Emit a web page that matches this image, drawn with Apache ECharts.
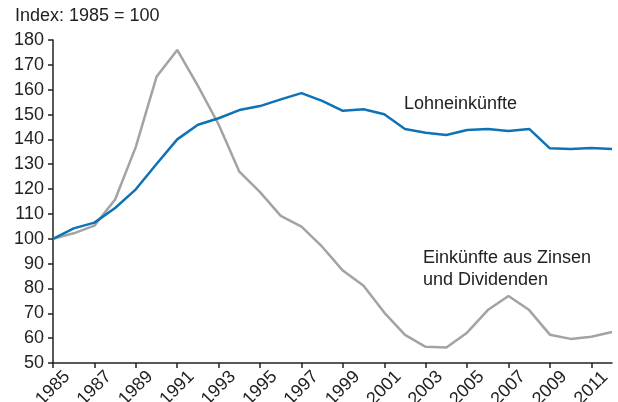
<!DOCTYPE html>
<html>
<head>
<meta charset="utf-8">
<script src="https://cdn.jsdelivr.net/npm/echarts@6/dist/echarts.min.js"></script>
<style>
  html, body { margin: 0; padding: 0; background: #fff; }
</style>
</head>
<body>
<div id="chart" style="width: 618px;height: 402px;"></div>
<script>
const years = [];
for (let y = 1985; y <= 2012; y++) years.push(String(y));

// Lohneinkünfte
const wages = [100, 104.2, 106.5, 112.4, 119.9, 130.1, 140, 145.9, 148.5, 151.8, 153.4, 156.1, 158.6,
  155.5, 151.5, 152.1, 150.1, 144.2, 142.7, 141.8, 143.8, 144.2, 143.4, 144.2, 136.4, 136.1, 136.5, 136.1];
// Einkünfte aus Zinsen und Dividenden
const interest = [100, 102.2, 105.3, 115.8, 137, 165.2, 176, 161.5, 146, 127, 118.8, 109.2, 104.9,
  96.8, 87.2, 81.1, 70.3, 61.3, 56.5, 56.2, 62.2, 71.3, 77, 71.3, 61.4, 59.7, 60.6, 62.5];

const font = 'Liberation Sans, Arial, sans-serif';

const myChart = echarts.init(document.getElementById('chart'));
myChart.setOption({
  animation: false,
  textStyle: { fontFamily: font },
  grid: { left: 53, right: 6, top: 40, bottom: 39, containLabel: false, outerBoundsMode: 'none' },
  graphic: [
    { type: 'text', left: 15, top: 7, style: { text: 'Index: 1985 = 100', font: '18px ' + font, fill: '#222' } },
    { type: 'text', left: 404, top: 95, style: { text: 'Lohneinkünfte', font: '18px ' + font, fill: '#222' } },
    { type: 'text', left: 423, top: 247, style: { text: 'Einkünfte aus Zinsen\nund Dividenden', font: '18px ' + font, fill: '#222', lineHeight: 22 } }
  ],
  xAxis: {
    type: 'category',
    data: years,
    boundaryGap: false,
    axisLine: { lineStyle: { color: '#222', width: 1.5 } },
    axisTick: { interval: 1, length: 5, lineStyle: { color: '#222', width: 1.5 } },
    axisLabel: {
      interval: 1, rotate: 45, fontSize: 18, color: '#222', fontFamily: font,
      align: 'center', verticalAlign: 'middle', margin: 25
    },
    splitLine: { show: false }
  },
  yAxis: {
    type: 'value',
    min: 50,
    max: 180,
    interval: 10,
    axisLine: { show: true, lineStyle: { color: '#222', width: 1.5 } },
    axisTick: { show: true, length: 5, lineStyle: { color: '#222', width: 1.5 } },
    axisLabel: { fontSize: 18, color: '#222', margin: 9, fontFamily: font },
    splitLine: { show: false }
  },
  series: [
    {
      name: 'Einkünfte aus Zinsen und Dividenden',
      type: 'line',
      data: interest,
      showSymbol: false,
      lineStyle: { color: '#a3a3a3', width: 2.5 },
      itemStyle: { color: '#a3a3a3' }
    },
    {
      name: 'Lohneinkünfte',
      type: 'line',
      data: wages,
      showSymbol: false,
      lineStyle: { color: '#0f72b6', width: 2.5 },
      itemStyle: { color: '#0f72b6' }
    }
  ]
});
</script>
</body>
</html>
